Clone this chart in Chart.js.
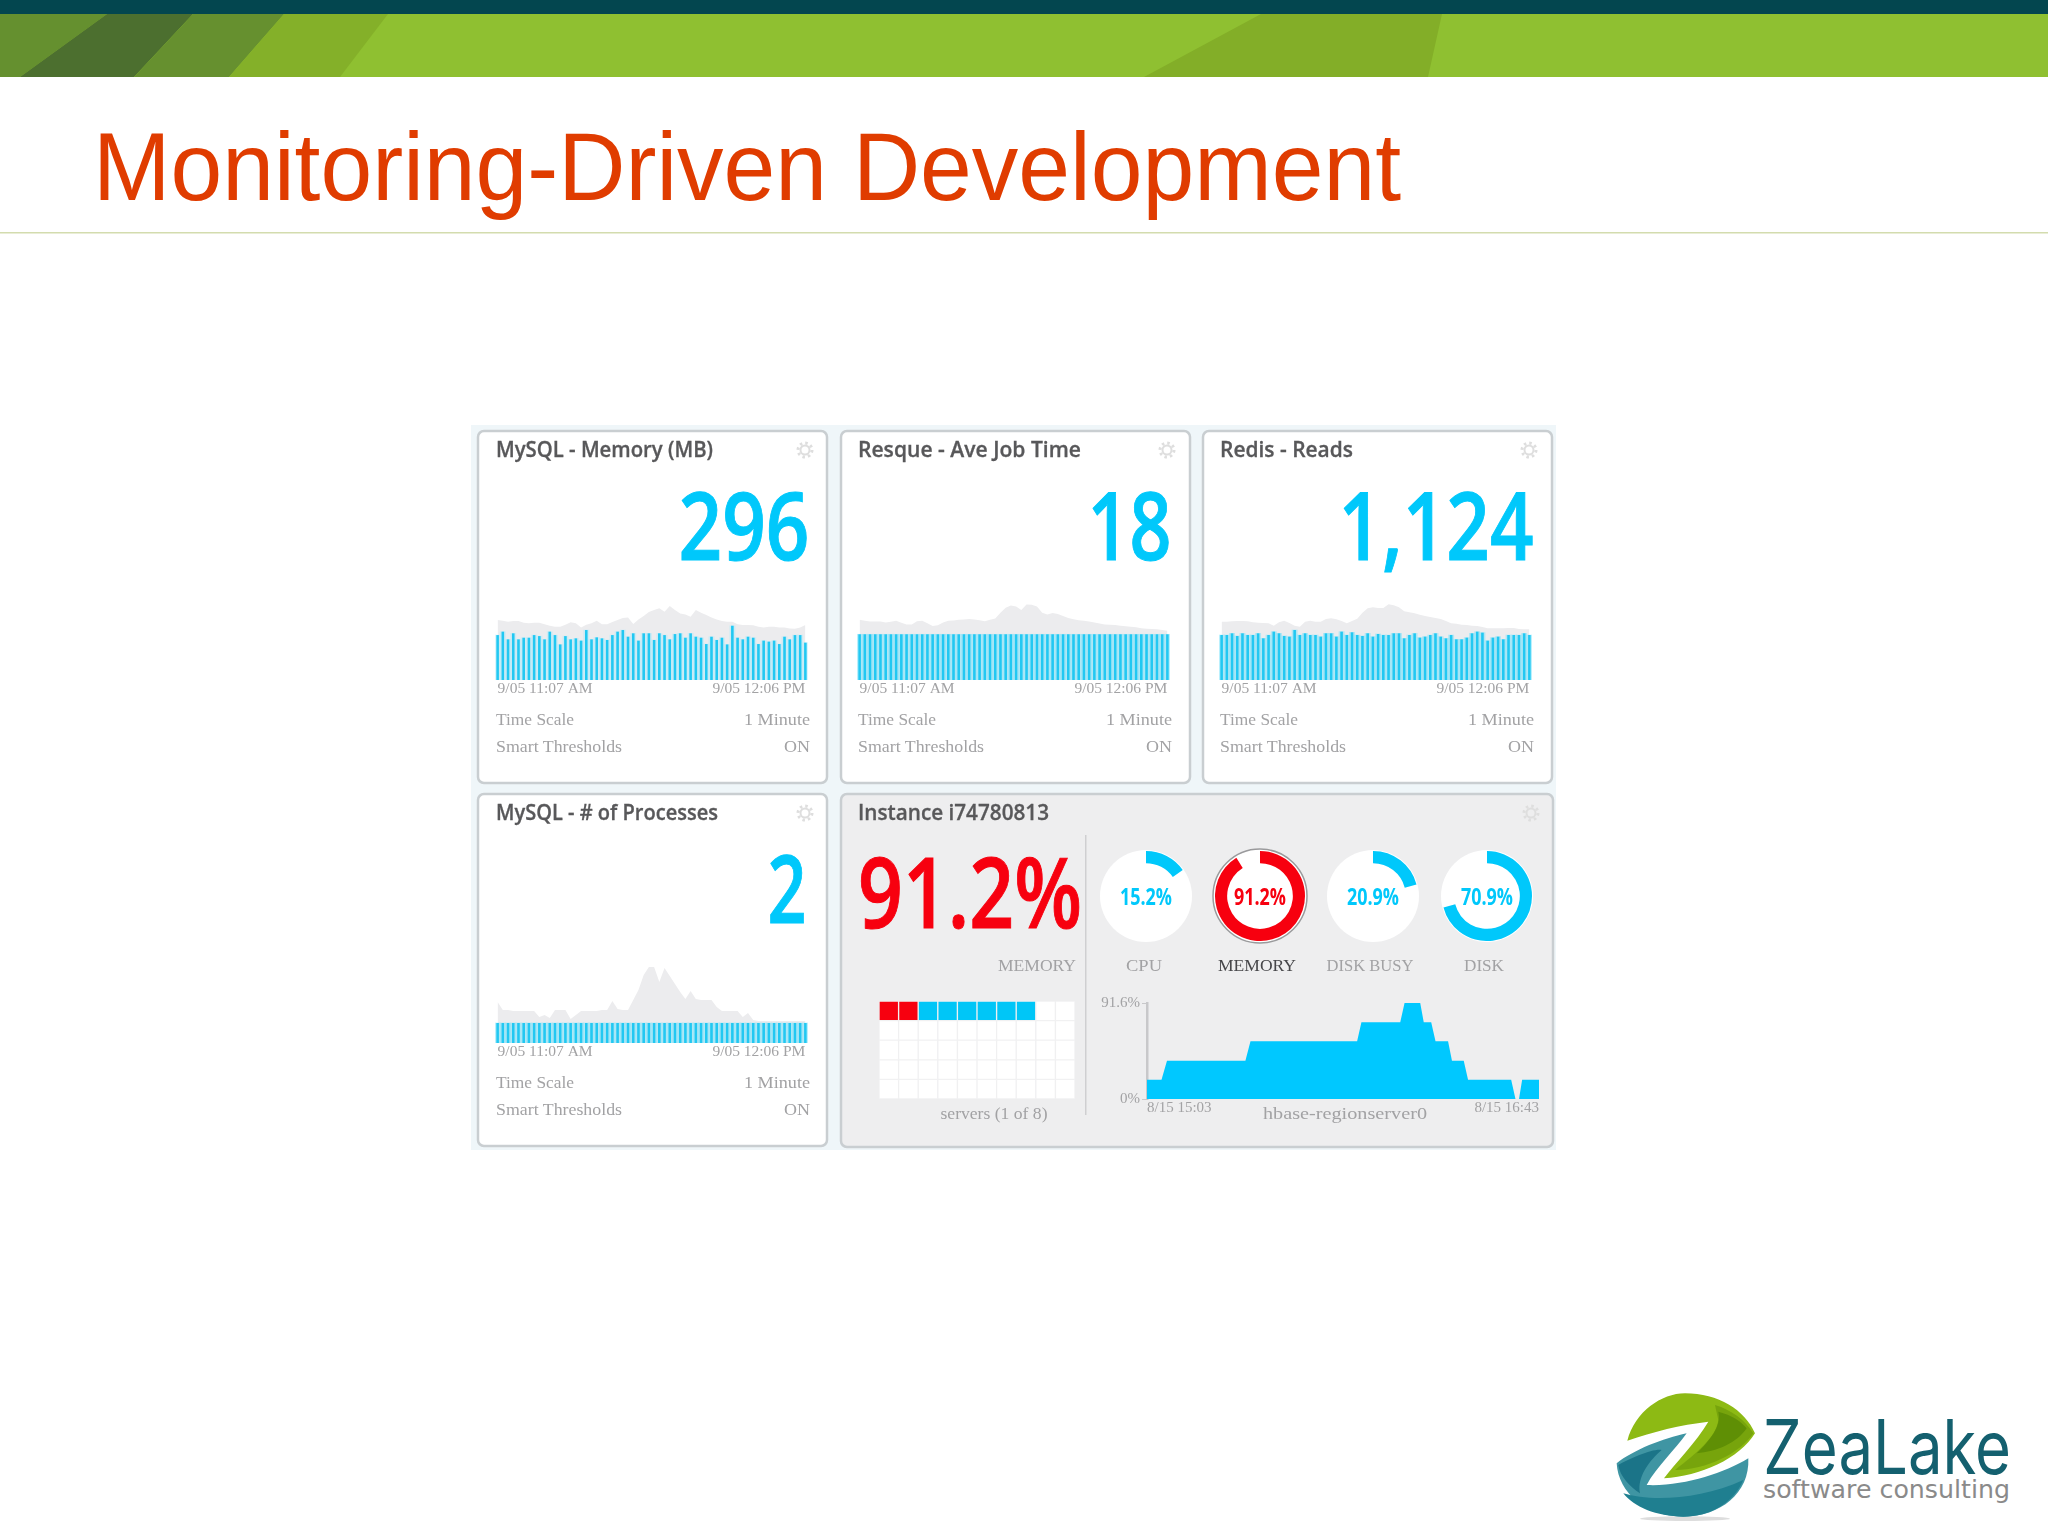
<!DOCTYPE html>
<html><head><meta charset="utf-8">
<style>
html,body{margin:0;padding:0;background:#fff;width:2048px;height:1537px;overflow:hidden}
#slide{position:absolute;left:0;top:0;width:2048px;height:1537px}
canvas{position:absolute;filter:blur(.55px)}
</style>
<script src="https://cdn.jsdelivr.net/npm/chart.js@4"></script>
</head><body>
<svg id="slide" xmlns="http://www.w3.org/2000/svg" viewBox="0 0 2048 1537">
  <rect x="0" y="0" width="2048" height="14" fill="#03464f"/>
  <rect x="0" y="14" width="2048" height="63" fill="#8fc031"/>
  <polygon points="0,14 107,14 20,77 0,77" fill="#65902f"/>
  <polygon points="107,14 193,14 134,77 20,77" fill="#4c6f2f"/>
  <polygon points="193,14 284,14 229,77 134,77" fill="#66902f"/>
  <polygon points="284,14 388,14 340,77 229,77" fill="#84b029"/>
  <polygon points="1261,14 1442,14 1428,77 1144,77" fill="#83ae28"/>
  <text x="93" y="200" font-family="Liberation Sans" font-size="97" fill="#e03c00" textLength="1308" lengthAdjust="spacingAndGlyphs">Monitoring-Driven Development</text>
  <rect x="0" y="232" width="2048" height="1.5" fill="#d3dcae"/>
  <g id="dash" style="filter:blur(.55px)"></g>
  <g transform="translate(1590,1370) scale(.3333)">
    <ellipse cx="285" cy="446" rx="135" ry="7" fill="#dddddd"/>
    <path d="M112,212 C135,125 215,70 285,70 C385,70 465,120 495,190 C450,265 330,320 222,325 C255,280 320,215 355,155 C270,165 190,185 112,212Z" fill="#8dba14"/>
    <path d="M375,105 C425,120 465,150 490,190 C450,250 350,300 255,300 C320,250 380,200 385,150Z" fill="#77a40c"/>
    <path d="M385,125 C425,135 455,155 470,175 C440,220 380,245 320,250 C360,210 395,170 385,125Z" fill="#5f8f05"/>
    <path d="M80,280 C130,240 220,205 290,190 C255,240 200,290 170,345 C280,350 400,310 475,265 C480,370 390,440 280,440 C170,440 85,370 80,280Z" fill="#3f95a3"/>
    <path d="M100,370 C180,395 330,390 460,330 C430,400 360,440 280,440 C200,440 130,410 100,370Z" fill="#1f7f90"/>
    <path d="M85,285 C120,265 190,235 215,240 C180,270 140,320 150,370 C120,350 90,320 85,285Z" fill="#1b7488"/>
  </g>
  <text x="1763" y="1474" font-family="Inter" font-size="75" fill="#14606f" textLength="248" lengthAdjust="spacingAndGlyphs">ZeaLake</text>
  <text x="1763" y="1498" font-family="DejaVu Sans" font-size="25" fill="#8a8a8a" textLength="247" lengthAdjust="spacingAndGlyphs">software consulting</text>
</svg>
<script>
// ---- text content ----
const panelTitles = ["MySQL - Memory (MB)","Resque - Ave Job Time","Redis - Reads","MySQL - # of Processes"];
const bigValues = ["296","18","1,124","2"];
const sparkTicks = ["9/05 11:07 AM","9/05 12:06 PM"];
const infoLabels = ["Time Scale","Smart Thresholds"];
const infoValues = ["1 Minute","ON"];
const instanceTitle = "Instance i74780813";
const gaugeNames = ["CPU","MEMORY","DISK BUSY","DISK"];
const gaugeValues = [15.2,91.2,20.9,70.9];
const areaTickLabels = ["8/15 15:03","8/15 16:43"];
const minuteLabels = ["11:07","11:08","11:09","11:10","11:11","11:12","11:13","11:14","11:15","11:16","11:17","11:18","11:19","11:20","11:21","11:22","11:23","11:24","11:25","11:26","11:27","11:28","11:29","11:30","11:31","11:32","11:33","11:34","11:35","11:36","11:37","11:38","11:39","11:40","11:41","11:42","11:43","11:44","11:45","11:46","11:47","11:48","11:49","11:50","11:51","11:52","11:53","11:54","11:55","11:56","11:57","11:58","11:59","12:00","12:01","12:02","12:03","12:04","12:05","12:06"];

// ---- sparkline values ----
const memoryBars = [356,383,322,370,322,335,335,356,348,322,383,356,282,348,322,330,312,396,322,338,330,317,356,383,396,343,370,312,370,370,317,370,356,322,364,370,335,370,343,335,285,343,317,335,282,430,335,322,343,335,285,312,304,312,285,343,322,356,356,296];
const memoryBack = [475,470,462,467,467,454,449,454,454,441,430,422,422,438,457,449,417,438,449,470,441,441,459,475,491,496,444,480,507,539,554,568,541,586,554,528,520,502,554,533,515,496,480,467,462,462,441,436,436,433,422,417,422,422,417,417,409,407,417,436];
const resqueBars = [18,18,18,18,18,18,18,18,18,18,18,18,18,18,18,18,18,18,18,18,18,18,18,18,18,18,18,18,18,18,18,18,18,18,18,18,18,18,18,18,18,18,18,18,18,18,18,18,18,18,18,18,18,18,18,18,18,18,18,18];
const resqueBack = [23.7,23.3,23,23,23,22.6,22.9,23.3,22.5,21.9,21.9,23.1,23.3,22.3,21.3,21.6,22.6,23.3,23.4,23.7,23.8,24,23.8,23.5,23.1,23.7,24.2,26.5,28.4,29.3,28.9,27.6,29.7,29.6,28.9,26.5,25.8,26.4,26,25.2,24.4,23.9,23.5,23.3,23,22.6,22.2,21.9,21.8,21.7,21.4,21.2,21,20.8,20.4,20.2,20.1,20,19.7,19.4];
const redisBars = [1124,1124,1166,1100,1166,1124,1124,1166,1041,1124,1208,1166,1100,1083,1249,1124,1166,1124,1124,1083,1166,1166,1083,1208,1124,1191,1124,1100,1166,1083,1150,1124,1124,1166,1166,1041,1124,1166,1058,1083,1124,1166,1083,1041,1124,1016,1016,1058,1166,1208,1183,983,1058,1083,1016,1124,1124,1124,1166,1124];
const redisBack = [1458,1458,1466,1474,1474,1466,1441,1433,1424,1416,1358,1441,1483,1424,1358,1333,1458,1483,1458,1458,1524,1541,1516,1474,1416,1474,1533,1683,1791,1816,1799,1799,1891,1866,1816,1716,1691,1666,1633,1599,1574,1549,1524,1474,1416,1408,1383,1375,1358,1349,1324,1291,1291,1291,1291,1299,1299,1274,1266,1266];
const processBars = [2,2,2,2,2,2,2,2,2,2,2,2,2,2,2,2,2,2,2,2,2,2,2,2,2,2,2,2,2,2,2,2,2,2,2,2,2,2,2,2,2,2,2,2,2,2,2,2,2,2,2,2,2,2,2,2,2,2,2,2];
const processBack = [4.1,3.3,3.3,3.2,3.2,3.2,3.2,3.2,2.6,2.8,2.5,3.3,3.3,3.3,2.4,2.8,3.2,3.2,3.2,3.2,3.3,3.3,4.2,3.4,3.3,3.3,4.3,5.3,6.8,7.6,7.6,6.1,7.5,6.7,5.9,5.1,4.4,5.2,4.4,4.3,4.3,4.3,3.6,3.2,3.2,3.2,3.2,2.6,3,2.3,2.2,2.2,2.2,2.2,2.2,2.2,2.2,2.2,2.2,2.2];

// ---- server grid (0 empty, 1 ok, 2 alert), top row first ----
const serverColumns = ["1","2","3","4","5","6","7","8","9","10"];
const serverRow1 = [2,2,1,1,1,1,1,1,0,0];
const serverRow2 = [0,0,0,0,0,0,0,0,0,0];
const serverRow3 = [0,0,0,0,0,0,0,0,0,0];
const serverRow4 = [0,0,0,0,0,0,0,0,0,0];
const serverRow5 = [0,0,0,0,0,0,0,0,0,0];

// ---- memory history area (minutes since 15:03, percent) ----
const historyMinutes = [0,3.7,5.1,25.1,26.4,53.6,54.7,64.6,65.7,69.7,70.6,72.5,73.6,76.8,77.8,80.8,81.9,92.9,94,94.9,95.7,100];
const historyPercent = [18.3,18.3,36.6,36.6,55,55,73.3,73.3,91.6,91.6,73.3,73.3,55,55,36.6,36.6,18.3,18.3,0,0,18.3,18.3];

// ---- drawing ----
const BLUE="#00c8fb", RED="#f7000f", SERIF="Liberation Serif", SANS="Open Sans";
const NS="http://www.w3.org/2000/svg", dash=document.getElementById("dash");
function el(tag,attrs,txt){const e=document.createElementNS(NS,tag);for(const k in attrs)e.setAttribute(k,attrs[k]);if(txt!==undefined)e.textContent=txt;dash.appendChild(e);return e;}
function text(s,x,y,len,opt){return el("text",Object.assign({x,y,textLength:len,lengthAdjust:"spacingAndGlyphs","font-family":SERIF,"font-size":17,fill:"#a2a2a4"},opt||{}),s);}
function gear(cx,cy){el("circle",{cx,cy,r:4.5,fill:"none",stroke:"#dedede","stroke-width":2});el("circle",{cx,cy,r:7,fill:"none",stroke:"#dedede","stroke-width":3,"stroke-dasharray":"2.5 3"});}
function panel(x,y,w,h,fill){el("rect",{x,y,width:w,height:h,rx:6,fill,stroke:"#c9ced1","stroke-width":2.5});}

el("rect",{x:471,y:425,width:1085,height:725,fill:"#eff6f9"});
const colX=[0,362,724], rowY=[0,363], panelNudge=[0,1,1];
const cells=[[0,0],[1,0],[2,0],[0,1]];
const titleLen=[217,223,133,222], bigRight=[809.5,1171.5,1533.5,806.5], bigLen=[131,84,195,39];
const titleStyle={"font-family":SANS,"font-weight":600,"font-size":21,fill:"#58585a",stroke:"#58585a","stroke-width":.3};
cells.forEach(([c,r],i)=>{
  const dx=colX[c], dy=rowY[r];
  panel(478+dx+panelNudge[c],431+dy,349,352,"#ffffff");
  text(panelTitles[i],496+dx,457+dy,titleLen[i],titleStyle);
  gear(805+dx,450+dy);
  text(bigValues[i],bigRight[i],560+dy,bigLen[i],{"font-family":SANS,"font-weight":600,"font-size":95,fill:BLUE,stroke:BLUE,"stroke-width":1,"text-anchor":"end"});
  text(infoLabels[0],496+dx,725+dy,78);
  text(infoLabels[1],496+dx,752+dy,126);
  text(infoValues[0],810+dx,725+dy,66,{"text-anchor":"end"});
  text(infoValues[1],810+dx,752+dy,26,{"text-anchor":"end"});
});
// instance panel
panel(841,794,712,353,"#eeeeef");
text(instanceTitle,858,820,191,titleStyle);
gear(1531,813);
text(gaugeValues[1].toFixed(1)+"%",858,928,224,{"font-family":SANS,"font-weight":600,"font-size":98,fill:RED,stroke:RED,"stroke-width":1});
text(gaugeNames[1],1076,971,78,{"text-anchor":"end"});
el("rect",{x:1085,y:835,width:1.5,height:280,fill:"#cfcfd1"});
const gaugeX=[1146,1260,1373,1487], gaugeNameX=[1144,1257,1370,1484], gaugeNameLen=[36,78,87,40];
gaugeValues.forEach((v,i)=>{
  const alert=i===1;
  el("circle",{cx:gaugeX[i],cy:896,r:alert?47:46,fill:"#fff",stroke:alert?"#9a9a9c":"none","stroke-width":1.5});
  text(v.toFixed(1)+"%",gaugeX[i],905,52,{"font-family":SANS,"font-weight":700,"font-size":24,fill:alert?RED:BLUE,"text-anchor":"middle"});
  text(gaugeNames[i],gaugeNameX[i],971,gaugeNameLen[i],{"text-anchor":"middle",fill:alert?"#47474a":"#a2a2a4"});
});
text("servers (1 of 8)",994,1119,107,{"text-anchor":"middle"});
text("hbase-regionserver0",1345,1119,164,{"text-anchor":"middle"});

Chart.defaults.animation=false;Chart.defaults.responsive=false;Chart.defaults.devicePixelRatio=1;
Chart.defaults.plugins.legend.display=false;Chart.defaults.plugins.tooltip.enabled=false;

function canvas(x,y,w,h){const c=document.createElement("canvas");c.width=w;c.height=h;c.style.left=x+"px";c.style.top=y+"px";c.style.width=w+"px";c.style.height=h+"px";document.body.appendChild(c);return c;}

function spark(x,top,base,bars,back,ymax,glow){
  new Chart(canvas(x-1,top,313,base-top+20),{
    data:{labels:minuteLabels,datasets:[
      {type:"bar",data:bars,backgroundColor:"#22c8f2",barPercentage:.5,categoryPercentage:1,order:1,grouped:false},
      {type:"bar",data:bars,backgroundColor:glow,barPercentage:1,categoryPercentage:1,order:2,grouped:false},
      {type:"line",data:back,borderWidth:0,pointRadius:0,tension:0,fill:"origin",backgroundColor:"#ececee",order:3}
    ]},
    options:{
      layout:{padding:0},
      scales:{
        x:{offset:true,grid:{display:false,drawTicks:false},border:{display:false},afterFit:s=>{s.height=20},
           ticks:{autoSkip:false,maxRotation:0,minRotation:0,align:"inner",padding:0,color:"#a2a2a4",font:{family:SERIF,size:15.5},
                  callback:(v,i)=>i===0?sparkTicks[0]:i===minuteLabels.length-1?sparkTicks[1]:null}},
        y:{display:false,min:0,max:ymax}
      }
    }
  });
}
spark(496,600,680,memoryBars,memoryBack,634,"rgba(170,236,252,.45)");
spark(858,600,680,resqueBars,resqueBack,31.5,"rgba(130,228,252,.55)");
spark(1220,600,680,redisBars,redisBack,1999,"rgba(130,228,252,.55)");
spark(496,960,1043,processBars,processBack,8.3,"rgba(130,228,252,.55)");

gaugeValues.forEach((v,i)=>{
  new Chart(canvas(gaugeX[i]-45,851,90,90),{
    type:"doughnut",
    data:{labels:["used","free"],datasets:[{data:[v,100-v],backgroundColor:[i===1?RED:BLUE,"rgba(0,0,0,0)"],borderWidth:0}]},
    options:{cutout:"73%",layout:{padding:0}}
  });
});

const cellColor=[ "#ffffff", "#00c6f7", RED ];
new Chart(canvas(879,1001,196,98),{
  type:"bar",
  data:{labels:serverColumns,datasets:[serverRow5,serverRow4,serverRow3,serverRow2,serverRow1].map(row=>({
    data:row.map(()=>1),backgroundColor:row.map(s=>cellColor[s]),borderColor:"#f1f1f2",borderWidth:1,borderSkipped:false,barPercentage:1,categoryPercentage:1
  }))},
  options:{scales:{x:{display:false,stacked:true},y:{display:false,stacked:true,min:0,max:5}}}
});

new Chart(canvas(1090,992,449,143),{
  type:"line",
  data:{datasets:[{data:historyMinutes.map((m,i)=>({x:m,y:historyPercent[i]})),borderWidth:0,pointRadius:0,tension:0,fill:"origin",backgroundColor:"#00c8ff"}]},
  options:{
    layout:{padding:{top:5}},
    scales:{
      x:{type:"linear",min:0,max:100,afterBuildTicks:s=>{s.ticks=[{value:0},{value:100}]},afterFit:s=>{s.height=36},
         grid:{display:false,drawTicks:false},border:{display:false},
         ticks:{align:"inner",maxRotation:0,minRotation:0,autoSkip:false,padding:0,color:"#a2a2a4",font:{family:SERIF,size:15},callback:(v,i)=>areaTickLabels[i]}},
      y:{min:0,max:91.6,afterBuildTicks:s=>{s.ticks=[{value:0},{value:91.6}]},afterFit:s=>{s.width=57},
         grid:{drawOnChartArea:false,tickLength:5,color:"#c8c8ca"},border:{display:true,color:"#c8c8ca",width:2.5},
         ticks:{padding:2,autoSkip:false,color:"#a2a2a4",font:{family:SERIF,size:15},callback:v=>v+"%"}}
    }
  }
});
</script>
</body></html>
